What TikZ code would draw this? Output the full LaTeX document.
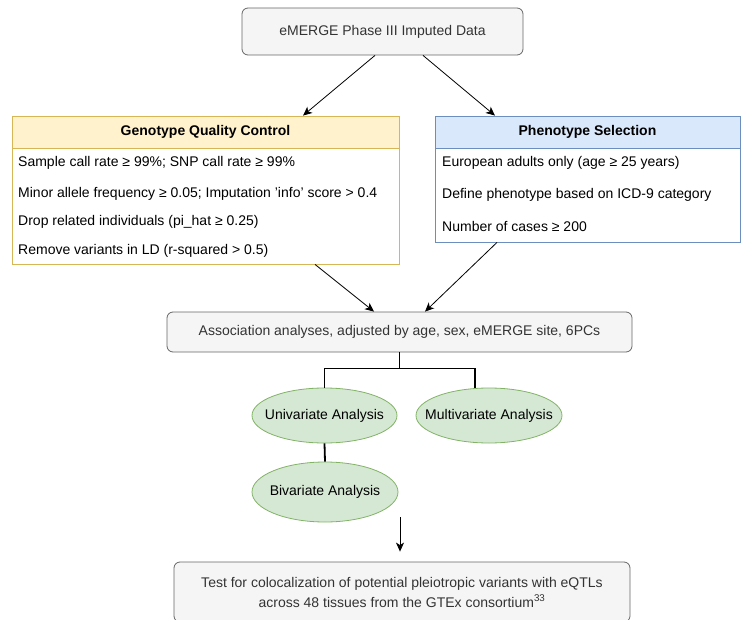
\documentclass[tikz,border=0pt]{standalone}
\usepackage{fontspec}
\setmainfont{Liberation Sans}
\usetikzlibrary{shapes.geometric,arrows.meta}
\definecolor{boxfill}{HTML}{F5F5F5}
\definecolor{boxline}{HTML}{666666}
\definecolor{boxtext}{HTML}{333333}
\definecolor{qcfill}{HTML}{FFF2CC}
\definecolor{qcline}{HTML}{D6B656}
\definecolor{phfill}{HTML}{DAE8FC}
\definecolor{phline}{HTML}{6C8EBF}
\definecolor{anfill}{HTML}{D5E8D4}
\definecolor{anline}{HTML}{82B366}

\begin{document}
\begin{tikzpicture}[x=1pt, y=-1pt, font=\fontsize{14}{17}\selectfont,
  graybox/.style={draw=boxline, fill=boxfill, text=boxtext, rectangle, rounded corners=6pt, line width=0.8pt, align=center, inner sep=0pt},
  headbox/.style={draw, rectangle, line width=0.8pt, font=\fontsize{14}{17}\selectfont\bfseries, inner sep=0pt},
  listbox/.style={draw, fill=white, rectangle, line width=0.8pt, inner sep=0pt},
  item/.style={anchor=west, inner sep=0pt},
  analysis/.style={draw=anline, fill=anfill, ellipse, line width=0.8pt, inner sep=0pt},
  arrow/.style={-{Stealth[length=9pt, width=8pt, inset=2.5pt]}, line width=0.8pt},
  bracket/.style={line width=1.8pt}]
  \useasboundingbox (0,0) rectangle (741,620);

  % Nodes
  \node[graybox, minimum width=281pt, minimum height=47pt] (data) at (382.5,31.5) {eMERGE Phase III Imputed Data};

  \node[headbox, draw=qcline, fill=qcfill, minimum width=387pt, minimum height=32pt] (qchead) at (205.5,132) {Genotype Quality Control};
  \node[listbox, draw=qcline, minimum width=387pt, minimum height=116pt] (qcbody) at (205.5,206) {};
  \node[item] (qc1) at (18,163) {Sample call rate ≥ 99\%; SNP call rate ≥ 99\%};
  \node[item] (qc2) at (18,194) {Minor allele frequency ≥ 0.05; Imputation 'info' score > 0.4};
  \node[item] (qc3) at (18,222) {Drop related individuals (pi\_hat ≥ 0.25)};
  \node[item] (qc4) at (18,251) {Remove variants in LD (r-squared > 0.5)};

  \node[headbox, draw=phline, fill=phfill, minimum width=305pt, minimum height=32pt] (phhead) at (587.5,132) {Phenotype Selection};
  \node[listbox, draw=phline, minimum width=305pt, minimum height=94pt] (phbody) at (587.5,195) {};
  \node[item] (ph1) at (442,163) {European adults only (age ≥ 25 years)};
  \node[item] (ph2) at (442,195) {Define phenotype based on ICD-9 category};
  \node[item] (ph3) at (442,226) {Number of cases ≥ 200};

  \node[graybox, minimum width=465pt, minimum height=40pt] (assoc) at (399.5,332) {Association analyses, adjusted by age, sex, eMERGE site, 6PCs};

  \node[analysis, minimum width=145pt, minimum height=55pt, label=center:{Univariate Analysis}] (uni) at (324.5,415.5) {};
  \node[analysis, minimum width=146pt, minimum height=55pt, label=center:{Multivariate Analysis}] (multi) at (489,415.5) {};
  \node[analysis, minimum width=146pt, minimum height=60pt, label=center:{Bivariate Analysis}] (bi) at (325,492) {};

  \node[graybox, minimum width=456pt, minimum height=60pt] (test) at (402,592) {Test for colocalization of potential pleiotropic variants with eQTLs\\[3pt]across 48 tissues from the GTEx consortium\textsuperscript{33}};
  \coordinate (gap) at (400,517);

  % Edges
  \draw[arrow] ([xshift=-7.5pt]data.south) -- ([xshift=97.5pt]qchead.north);
  \draw[arrow] ([xshift=40.5pt]data.south) -- ([xshift=-92.5pt]phhead.north);
  \draw[arrow] ([xshift=109.5pt]qcbody.south) -- ([xshift=-25.5pt]assoc.north);
  \draw[arrow] ([xshift=-90.5pt]phbody.south) -- ([xshift=25.5pt]assoc.north);
  \draw[bracket] (assoc.south) -- ++(0,16) -| (uni.north);
  \draw[bracket] (assoc.south) ++(0,16) -| ([xshift=-14pt]multi.north);
  \draw[bracket] (uni.south) -- (bi.north);
  \draw[arrow] (gap) -- ([yshift=10pt]test.north -| gap);
\end{tikzpicture}
\end{document}
